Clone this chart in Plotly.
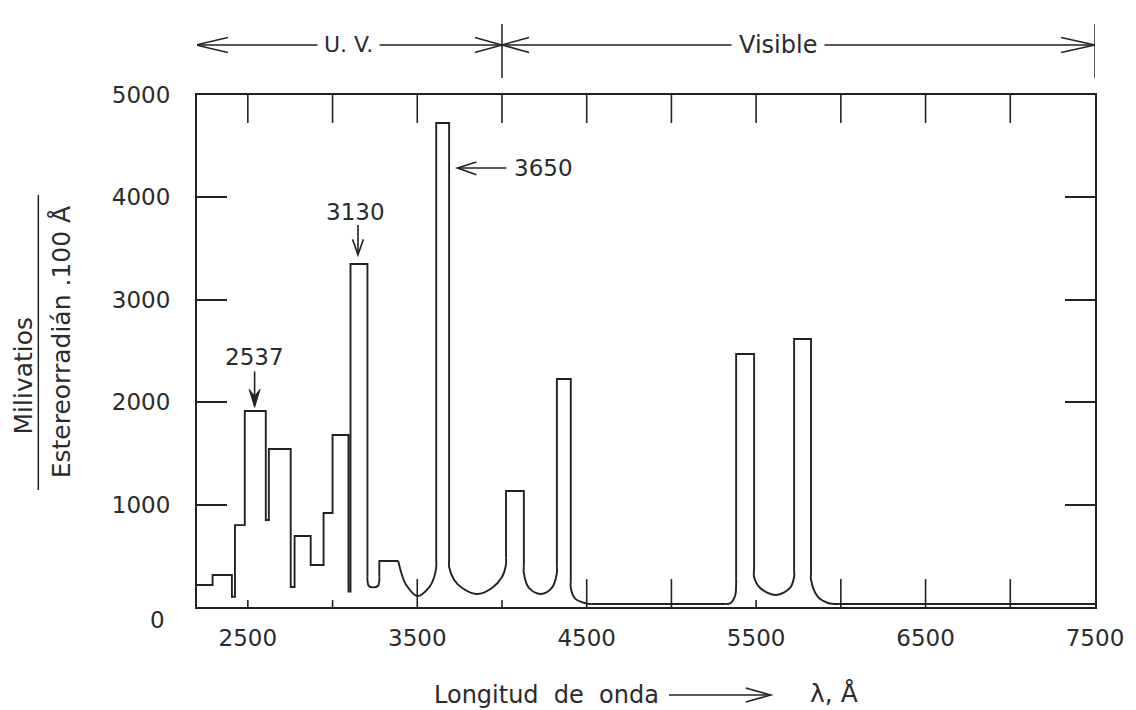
import plotly.graph_objects as go

# ---------------- data (x in Å, y in mW / sr·100 Å) ----------------
# UV staircase from 2200 Å up to the right wall of the 3130 line
uv_steps_x = [2200, 2292, 2292, 2406, 2406, 2424, 2424, 2482, 2482, 2606, 2606, 2624, 2624,
              2753, 2753, 2776, 2776, 2871, 2871, 2947, 2947, 3000, 3000, 3094, 3094, 3106,
              3106, 3206, 3206]
uv_steps_y = [215, 215, 312, 312, 100, 100, 800, 800, 1914, 1914, 850, 850, 1543,
              1543, 195, 195, 693, 693, 410, 410, 918, 918, 1680, 1680, 150, 150,
              3350, 3350, 300]

dip_3240_x = [3206, 3206, 3214, 3241, 3268, 3276, 3276]
dip_3240_y = [300, 260, 205, 192, 205, 260, 300]

step_3330_x = [3276, 3276, 3388]
step_3330_y = [300, 449, 449]

trough_3500_x = [3388, 3406, 3435, 3500, 3571, 3600, 3612, 3612]
trough_3500_y = [449, 332, 215, 107, 195, 293, 391, 450]

peak_3650_x = [3612, 3612, 3688, 3688]
peak_3650_y = [450, 4727, 4727, 450]

trough_3860_x = [3688, 3688, 3718, 3765, 3853, 3941, 4000, 4024, 4024]
trough_3860_y = [450, 391, 264, 186, 127, 186, 293, 420, 480]

peak_4047_x = [4024, 4024, 4129, 4129]
peak_4047_y = [480, 1133, 1133, 400]

trough_4230_x = [4129, 4129, 4159, 4229, 4294, 4324, 4324]
trough_4230_y = [400, 332, 186, 127, 186, 332, 400]

peak_4358_x = [4324, 4324, 4406, 4406]
peak_4358_y = [400, 2227, 2227, 250]

tail_4450_x = [4406, 4406, 4432, 4494, 4530]
tail_4450_y = [250, 186, 82, 36, 29]

base_5000_x = [4530, 5320]
base_5000_y = [29, 29]

rise_5360_x = [5320, 5350, 5376, 5382, 5382]
rise_5360_y = [29, 40, 110, 215, 280]

peak_5461_x = [5382, 5382, 5488, 5488]
peak_5461_y = [280, 2471, 2471, 360]

trough_5620_x = [5488, 5488, 5524, 5618, 5700, 5724, 5724]
trough_5620_y = [360, 293, 186, 117, 186, 293, 360]

peak_5770_x = [5724, 5724, 5824, 5824]
peak_5770_y = [360, 2617, 2617, 330]

tail_5900_x = [5824, 5824, 5865, 5924, 5990]
tail_5900_y = [330, 264, 98, 39, 29]

base_7000_x = [5990, 7500]
base_7000_y = [29, 29]

# axis ticks / labels
x_label_vals = [2500, 3500, 4500, 5500, 6500, 7500]
x_minor_ticks = [2500, 3000, 3500, 4000, 4500, 5000, 5500, 6000, 6500, 7000]
y_label_vals = [1000, 2000, 3000, 4000, 5000]

# line annotations
line_names = ["2537", "3130", "3650"]

# ---------------- styling ----------------
INK = "#222222"
TXT = "#2b2b2b"
FONT = "DejaVu Sans"
NUMFONT = "DejaVu Sans"
LW = 1.9

segments = [
    (uv_steps_x, uv_steps_y, "linear"),
    (dip_3240_x, dip_3240_y, "spline"),
    (step_3330_x, step_3330_y, "linear"),
    (trough_3500_x, trough_3500_y, "spline"),
    (peak_3650_x, peak_3650_y, "linear"),
    (trough_3860_x, trough_3860_y, "spline"),
    (peak_4047_x, peak_4047_y, "linear"),
    (trough_4230_x, trough_4230_y, "spline"),
    (peak_4358_x, peak_4358_y, "linear"),
    (tail_4450_x, tail_4450_y, "spline"),
    (base_5000_x, base_5000_y, "linear"),
    (rise_5360_x, rise_5360_y, "spline"),
    (peak_5461_x, peak_5461_y, "linear"),
    (trough_5620_x, trough_5620_y, "spline"),
    (peak_5770_x, peak_5770_y, "linear"),
    (tail_5900_x, tail_5900_y, "spline"),
    (base_7000_x, base_7000_y, "linear"),
]

fig = go.Figure()
for xs, ys, shp in segments:
    fig.add_trace(go.Scatter(
        x=xs, y=ys, mode="lines",
        line=dict(color=INK, width=LW, shape=shp, smoothing=1.0),
        showlegend=False, hoverinfo="skip"))

shapes = []
# x ticks drawn inward from top and bottom frame
LONG = 273   # ~28 px in y units
SHORT = 68
short_bottom = {2500, 3000, 4000, 5500}
for xv in x_minor_ticks:
    shapes.append(dict(type="line", xref="x", yref="y", x0=xv, x1=xv, y0=5000, y1=5000 - LONG,
                       line=dict(color=INK, width=1.6)))
    ln = SHORT if xv in short_bottom else LONG
    shapes.append(dict(type="line", xref="x", yref="y", x0=xv, x1=xv, y0=0, y1=ln,
                       line=dict(color=INK, width=1.6)))

# UV / Visible bracket above the plot
YB = 1.0977
bl = dict(color=INK, width=1.5)
shapes.append(dict(type="line", xref="x", yref="paper", x0=2195, x1=7500, y0=YB, y1=YB, line=bl))
for xv in [2190, 4000, 7500]:
    shapes.append(dict(type="line", xref="x", yref="paper", x0=xv, x1=xv, y0=1.0332, y1=1.1387, line=bl))
AH = 0.0146
shapes += [
    dict(type="path", xref="x", yref="paper",
         path=f"M {2382} {YB+AH} L 2192 {YB} L {2382} {YB-AH}", line=bl),
    dict(type="path", xref="x", yref="paper",
         path=f"M {3840} {YB+AH} L 4000 {YB} L {3840} {YB-AH}", line=bl),
    dict(type="path", xref="x", yref="paper",
         path=f"M {4160} {YB+AH} L 4000 {YB} L {4160} {YB-AH}", line=bl),
    dict(type="path", xref="x", yref="paper",
         path=f"M {7300} {YB+AH} L 7500 {YB} L {7300} {YB-AH}", line=bl),
]

# arrows for the labelled lines
al = dict(color=INK, width=1.6)
shapes += [
    # 2537
    dict(type="line", xref="x", yref="y", x0=2540, x1=2540, y0=2300, y1=1990, line=al),
    dict(type="path", xref="x", yref="y", path="M 2508 2125 L 2540 1950 L 2572 2125 L 2540 2060 Z",
         line=dict(color=INK, width=1), fillcolor=INK),
    # 3130
    dict(type="line", xref="x", yref="y", x0=3150, x1=3150, y0=3730, y1=3440, line=al),
    dict(type="path", xref="x", yref="y", path="M 3118 3590 L 3150 3440 L 3182 3590", line=al),
    # 3650
    dict(type="line", xref="x", yref="y", x0=3737, x1=4026, y0=4287, y1=4287, line=al),
    dict(type="path", xref="x", yref="y", path="M 3849 4346 L 3737 4287 L 3849 4220", line=al),
]

# y-title fraction bar
shapes.append(dict(type="line", xref="paper", yref="paper", x0=-0.1767, x1=-0.1767,
                   y0=0.2285, y1=0.8047, line=dict(color=INK, width=1.5)))
# x-title arrow
shapes += [
    dict(type="line", xref="paper", yref="paper", x0=0.5256, x1=0.6389, y0=-0.1719, y1=-0.1719,
         line=dict(color=INK, width=1.6)),
    dict(type="path", xref="paper", yref="paper",
         path="M 0.6111 -0.1582 L 0.6389 -0.1719 L 0.6111 -0.1856", line=dict(color=INK, width=1.6)),
]

ann = []
tf = dict(family=FONT, size=24, color=TXT)
yf = dict(family=FONT, size=25, color=TXT)
nf = dict(family=NUMFONT, size=23, color=TXT)
C = dict(showarrow=False, xanchor="center", yanchor="middle")
ann += [
    dict(x=3095, y=YB, xref="x", yref="paper", text="U. V.",
         font=dict(family=FONT, size=22, color=TXT), bgcolor="white", borderpad=6, **C),
    dict(x=5630, y=YB, xref="x", yref="paper", text="Visible",
         font=tf, bgcolor="white", borderpad=7, **C),
    dict(x=2537, y=2441, xref="x", yref="y", text=line_names[0], font=nf, **C),
    dict(x=3136, y=3857, xref="x", yref="y", text=line_names[1], font=nf, **C),
    dict(x=4061, y=4287, xref="x", yref="y", text=line_names[2], font=nf,
         showarrow=False, xanchor="left", yanchor="middle"),
    dict(x=-0.0444, y=-0.0254, xref="paper", yref="paper", text="0", font=nf, **C),
    dict(x=-0.1933, y=0.453, xref="paper", yref="paper", text="Milivatios",
         font=yf, textangle=-90, **C),
    dict(x=-0.15, y=0.5176, xref="paper", yref="paper", text="Estereorradián .100 Å",
         font=yf, textangle=-90, **C),
    dict(x=0.5167, y=-0.1719, xref="paper", yref="paper", text="Longitud  de  onda",
         font=tf, showarrow=False, xanchor="right", yanchor="middle"),
    dict(x=0.7089, y=-0.168, xref="paper", yref="paper", text="λ, Å",
         font=dict(family=FONT, size=25, color=TXT), **C),
]

fig.update_layout(
    width=1136, height=710,
    margin=dict(l=197, r=39, t=95, b=103),
    paper_bgcolor="white", plot_bgcolor="white",
    shapes=shapes, annotations=ann,
    xaxis=dict(range=[2200, 7500], showgrid=False, zeroline=False,
               showline=True, mirror=True, linecolor=INK, linewidth=2,
               ticks="", tickvals=x_label_vals, ticktext=[str(v) for v in x_label_vals],
               tickfont=nf, ticklabelstandoff=9),
    yaxis=dict(range=[0, 5000], showgrid=False, zeroline=False,
               showline=True, mirror="ticks", linecolor=INK, linewidth=2,
               ticks="inside", ticklen=30, tickwidth=1.8, tickcolor=INK,
               tickvals=y_label_vals, ticktext=[str(v) for v in y_label_vals],
               tickfont=nf, ticklabelstandoff=20),
)

fig.write_html("out.html", config={"displayModeBar": False},
               post_script="document.body.style.margin='0';document.body.style.overflow='hidden';")
